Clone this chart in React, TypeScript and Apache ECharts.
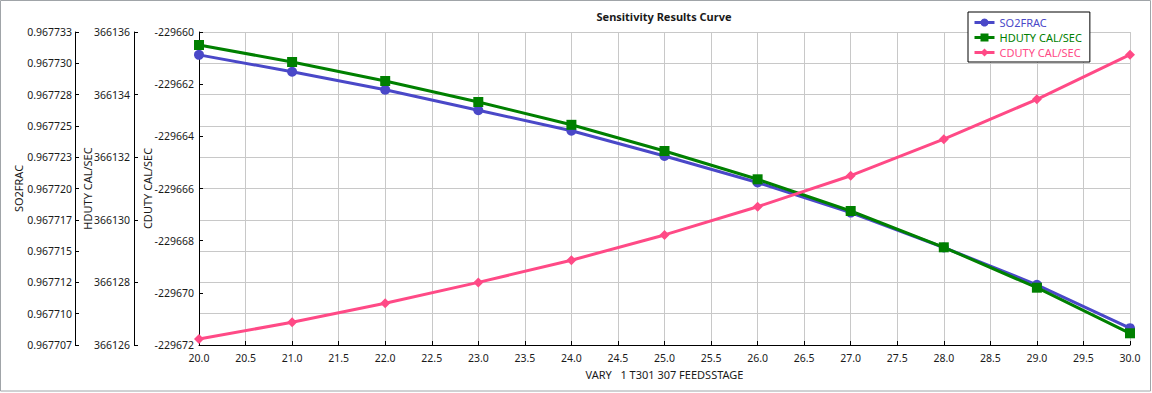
import React, { useEffect, useRef } from "react";
import * as echarts from "echarts";

const xValues = [20, 21, 22, 23, 24, 25, 26, 27, 28, 29, 30];
const so2frac = [0.9677311, 0.9677297, 0.9677282, 0.9677265, 0.9677248, 0.9677227, 0.9677205, 0.967718, 0.9677151, 0.967712, 0.9677084];
const hduty = [366135.585, 366135.042, 366134.435, 366133.764, 366133.035, 366132.198, 366131.294, 366130.281, 366129.121, 366127.831, 366126.374];
const cduty = [-229671.77, -229671.13, -229670.4, -229669.6, -229668.75, -229667.78, -229666.7, -229665.51, -229664.11, -229662.58, -229660.87];
const seriesNames = ["SO2FRAC", "HDUTY CAL/SEC", "CDUTY CAL/SEC"];
const xAxisName = "VARY   1 T301 307 FEEDSSTAGE";
const chartTitle = "Sensitivity Results Curve";

const BLUE = "#4a48c8";
const GREEN = "#008000";
const PINK = "#ff4a86";
const FONT = "Noto Sans";
const TXT = "#1a1a1a";

export default function App() {
  const ref = useRef<HTMLDivElement>(null);
  useEffect(() => {
    if (!ref.current) return;
    const chart = echarts.init(ref.current, null, { renderer: "svg" });
    const pairs = (ys: number[]) => xValues.map((x, i) => [x, ys[i]]);
    const yBase = (offset: number, min: number, max: number, interval: number, name: string, nameGap: number, margin: number, fmt: (v: number) => string, grid: boolean) => ({
      type: "value",
      position: "left",
      offset,
      min,
      max,
      interval,
      name,
      nameLocation: "middle",
      nameGap,
      nameMoveOverlap: false,
      nameTextStyle: { color: TXT, fontFamily: FONT, fontSize: 11 },
      axisLine: { show: true, onZero: false, lineStyle: { color: "#000", width: 1 } },
      axisTick: { show: true, inside: true, length: 4, lineStyle: { color: "#000" } },
      axisLabel: { color: TXT, fontFamily: FONT, fontSize: 10.5, margin, formatter: fmt },
      splitLine: { show: grid, lineStyle: { color: "#c8c8c8", width: 1 } },
    });
    const lineSeries = (name: string, data: number[], color: string, symbol: string, symbolSize: number, yAxisIndex: number) => ({
      type: "line",
      name,
      data: pairs(data),
      yAxisIndex,
      symbol,
      symbolSize,
      showAllSymbol: true,
      lineStyle: { color, width: 3 },
      itemStyle: { color, borderWidth: 0 },
      emphasis: { disabled: true },
    });
    chart.setOption({
      animation: false,
      title: {
        text: chartTitle,
        left: 664,
        top: 11,
        padding: 0,
        textAlign: "center",
        textStyle: { fontFamily: FONT, fontSize: 11, fontWeight: "bold", color: TXT },
      },
      legend: {
        orient: "vertical",
        left: 968,
        top: 12,
        padding: [5, 8, 4, 5],
        itemGap: 4,
        itemWidth: 20,
        itemHeight: 10,
        borderColor: "#000",
        borderWidth: 1,
        backgroundColor: "#fff",
        lineStyle: { width: 3 },
        textStyle: { fontFamily: FONT, fontSize: 11 },
        data: [
          { name: seriesNames[0], textStyle: { color: BLUE } },
          { name: seriesNames[1], textStyle: { color: GREEN } },
          { name: seriesNames[2], textStyle: { color: PINK } },
        ],
      },
      grid: { left: 199, right: 22, top: 32, bottom: 48, containLabel: false, outerBoundsMode: "none" },
      xAxis: {
        type: "value",
        min: 20,
        max: 30,
        interval: 0.5,
        name: xAxisName,
        nameLocation: "middle",
        nameGap: 24,
        nameMoveOverlap: false,
        nameTextStyle: { color: TXT, fontFamily: FONT, fontSize: 11 },
        axisLine: { show: true, onZero: false, lineStyle: { color: "#000", width: 1 } },
        axisTick: { show: true, inside: true, length: 4, lineStyle: { color: "#000" } },
        axisLabel: { color: TXT, fontFamily: FONT, fontSize: 10.5, margin: 7, formatter: (v: number) => v.toFixed(1) },
        splitLine: { show: true, lineStyle: { color: "#c8c8c8", width: 1 } },
      },
      yAxis: [
        yBase(0, -229672, -229660, 2, seriesNames[2], 46, 5, (v: number) => String(Math.round(v)), false),
        yBase(65, 366126, 366136, 2, seriesNames[1], 41, 4, (v: number) => String(Math.round(v)), false),
        yBase(124, 0.967707, 0.967733, 0.0000026, seriesNames[0], 51, 3, (v: number) => v.toFixed(6), true),
      ],
      graphic: [
        {
          type: "rect",
          shape: { x: 0.5, y: 0.5, width: 1150, height: 390.5 },
          style: { fill: "none", stroke: "#a0a4a8", lineWidth: 1 },
          silent: true,
        },
      ],
      series: [
        lineSeries(seriesNames[0], so2frac, BLUE, "circle", 10, 2),
        lineSeries(seriesNames[1], hduty, GREEN, "rect", 10, 1),
        lineSeries(seriesNames[2], cduty, PINK, "diamond", 10, 0),
      ],
    });
    return () => chart.dispose();
  }, []);
  return <div ref={ref} style={{ position: "absolute", left: 0, top: 0, width: 1152, height: 393, background: "#fff" }} />;
}
